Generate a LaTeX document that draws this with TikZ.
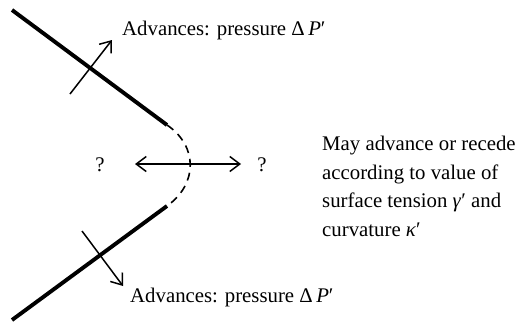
\documentclass[tikz,border=0pt]{standalone}
\usepackage{fontspec}
\setmainfont{Liberation Serif}
\usetikzlibrary{arrows.meta}
\tikzset{
  wall/.style={line width=3.9pt},
  flow/.style={line width=1.5pt,-{Straight Barb[length=10pt,width=15pt,line width=1.5pt]}},
  twoway/.style={line width=1.5pt,{Straight Barb[length=10pt,width=15pt,line width=1.5pt]}-{Straight Barb[length=10pt,width=15pt,line width=1.5pt]}},
  meniscus/.style={line width=1.6pt,dash pattern=on 8pt off 6pt},
  lbl/.style={inner sep=0pt,font=\fontsize{20.8}{28.5}\selectfont}
}
\begin{document}
\begin{tikzpicture}[x=1pt,y=-1pt]
\useasboundingbox (0,0) rectangle (520,324);
% walls
\coordinate (u1) at (12,10);
\coordinate (u2) at (167,125);
\coordinate (l1) at (167,206);
\coordinate (l2) at (12,320);
\draw[wall] (u1) -- (u2);
\draw[wall] (l1) -- (l2);
% meniscus
\draw[meniscus] (u2) .. controls (198,146) and (198,184) .. (l1);
% arrows across walls
\coordinate (a1) at (70,94);
\coordinate (a2) at (112,40);
\coordinate (b1) at (82,231);
\coordinate (b2) at (123,286);
\draw[flow] (a1) -- (a2);
\draw[flow] (b1) -- (b2);
% question marks and two-way arrow
\node[lbl,anchor=base] (q1) at (100,171) {?};
\node[lbl,anchor=base] (q2) at (262,171) {?};
\coordinate (h1) at (135,164);
\coordinate (h2) at (241,164);
\draw[twoway] (h1) -- (h2);
% labels
\node[lbl,anchor=base west] (top) at (122,35) {Advances: pressure Δ\,\textit{P}′};
\node[lbl,anchor=base west] (bot) at (130,302) {Advances: pressure Δ\,\textit{P}′};
\node[lbl,anchor=north west,align=left] (side) at (322,136) {May advance or recede\\according to value of\\surface tension \textit{γ}′ and\\curvature \textit{κ}′};
\end{tikzpicture}
\end{document}
